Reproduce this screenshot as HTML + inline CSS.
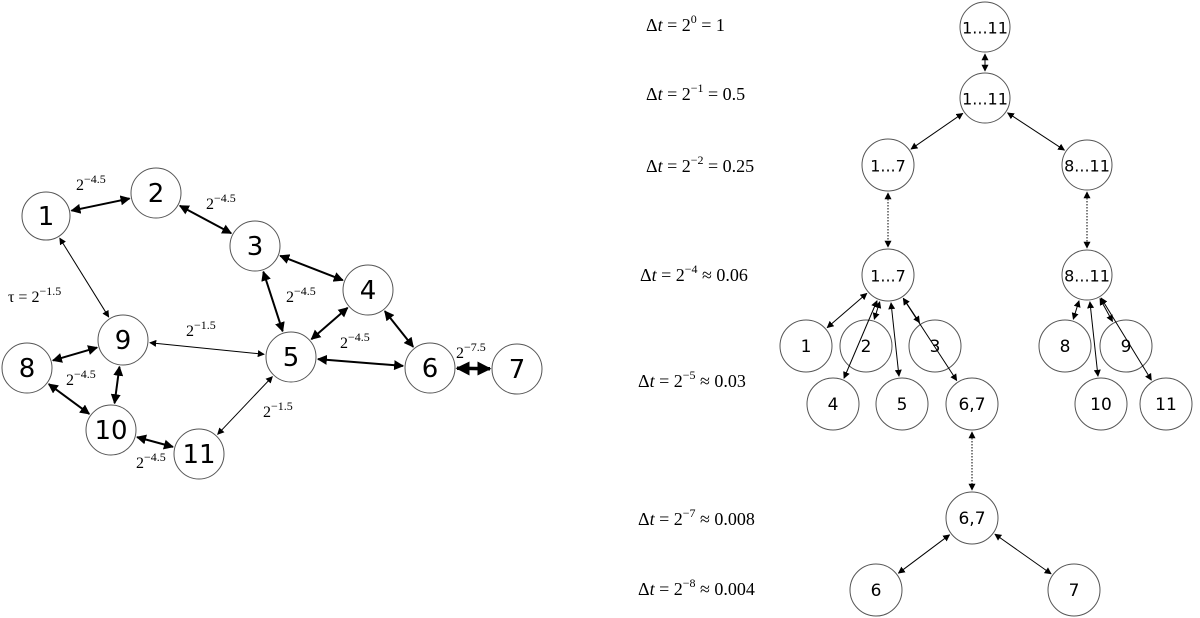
<!DOCTYPE html>
<html><head><meta charset="utf-8">
<style>
html,body{margin:0;padding:0;background:#fff;}
svg{display:block;}
.n{fill:#fff;stroke:#555;stroke-width:1;}
.t{font-family:"DejaVu Sans","Liberation Sans",sans-serif;text-anchor:middle;dominant-baseline:central;fill:#000;}
.m{font-family:"Liberation Serif","DejaVu Serif",serif;fill:#000;}
</style></head>
<body>
<svg id="s" width="1200" height="618" viewBox="0 0 1200 618" xmlns="http://www.w3.org/2000/svg">
<defs>
<marker id="a1" viewBox="0 0 10 10" refX="9" refY="5" markerWidth="7" markerHeight="7" markerUnits="userSpaceOnUse" orient="auto-start-reverse"><path d="M0,0L10,5L0,10z"/></marker>
<marker id="a2" viewBox="0 0 10 10" refX="9" refY="5" markerWidth="10" markerHeight="10" markerUnits="userSpaceOnUse" orient="auto-start-reverse"><path d="M0,0L10,5L0,10z"/></marker>
<marker id="a3" viewBox="0 0 10 10" refX="9" refY="5" markerWidth="14" markerHeight="14" markerUnits="userSpaceOnUse" orient="auto-start-reverse"><path d="M0,0L10,5L0,10z"/></marker>
</defs>
<g id="nodes"></g>
<g id="edges"></g>
<g class="m" font-size="16">
<text x="76" y="190">2<tspan dy="-7" font-size="12">−4.5</tspan></text>
<text x="206" y="209">2<tspan dy="-7" font-size="12">−4.5</tspan></text>
<text x="8" y="302">τ = 2<tspan dy="-7" font-size="12">−1.5</tspan></text>
<text x="286" y="302">2<tspan dy="-7" font-size="12">−4.5</tspan></text>
<text x="186" y="336">2<tspan dy="-7" font-size="12">−1.5</tspan></text>
<text x="340" y="348">2<tspan dy="-7" font-size="12">−4.5</tspan></text>
<text x="456" y="358">2<tspan dy="-7" font-size="12">−7.5</tspan></text>
<text x="66" y="385">2<tspan dy="-7" font-size="12">−4.5</tspan></text>
<text x="263" y="417">2<tspan dy="-7" font-size="12">−1.5</tspan></text>
<text x="136" y="468">2<tspan dy="-7" font-size="12">−4.5</tspan></text>
</g>
<g class="m" font-size="18">
<text x="646" y="31">Δ<tspan font-style="italic">t</tspan> = 2<tspan dy="-8" font-size="12">0</tspan><tspan dy="8"> = 1</tspan></text>
<text x="646" y="100">Δ<tspan font-style="italic">t</tspan> = 2<tspan dy="-8" font-size="12">−1</tspan><tspan dy="8"> = 0.5</tspan></text>
<text x="646" y="172">Δ<tspan font-style="italic">t</tspan> = 2<tspan dy="-8" font-size="12">−2</tspan><tspan dy="8"> = 0.25</tspan></text>
<text x="640" y="281">Δ<tspan font-style="italic">t</tspan> = 2<tspan dy="-8" font-size="12">−4</tspan><tspan dy="8"> ≈ 0.06</tspan></text>
<text x="638" y="387">Δ<tspan font-style="italic">t</tspan> = 2<tspan dy="-8" font-size="12">−5</tspan><tspan dy="8"> ≈ 0.03</tspan></text>
<text x="638" y="525">Δ<tspan font-style="italic">t</tspan> = 2<tspan dy="-8" font-size="12">−7</tspan><tspan dy="8"> ≈ 0.008</tspan></text>
<text x="638" y="595">Δ<tspan font-style="italic">t</tspan> = 2<tspan dy="-8" font-size="12">−8</tspan><tspan dy="8"> ≈ 0.004</tspan></text>
</g>
</svg>
<script>
var N={
L1:[46,216,24,"1",26],L2:[156,193,25,"2",26],L3:[255,246,25,"3",26],L4:[368,290,25,"4",26],
L5:[291,357,25,"5",26],L6:[430,368,25,"6",26],L7:[517,369,25,"7",26],L8:[27,368,25,"8",26],
L9:[123,340,25,"9",26],L10:[111,430,25,"10",26],L11:[199,454,25,"11",26],
T0:[985,27,25,"1...11",16],T1:[985,98,25,"1...11",16],A:[888,165,26,"1...7",16],B:[1087,165,25,"8...11",16],
A2:[888,275,26,"1...7",16],B2:[1087,275,25,"8...11",16],
c1:[806,346,26,"1",17],c2:[866,346,26,"2",17],c3:[935,346,26,"3",17],c8:[1065,346,26,"8",17],c9:[1126,346,26,"9",17],
c4:[833,404,26,"4",17],c5:[902,404,26,"5",17],c67:[972,404,26,"6,7",17],c10:[1101,404,26,"10",17],c11:[1166,404,26,"11",17],
D:[972,518,26,"6,7",17],d6:[876,590,26,"6",17],d7:[1074,590,26,"7",17]};
var E=[["L1","L2",2,"a2"],["L2","L3",2,"a2"],["L3","L4",2,"a2"],["L3","L5",2,"a2"],["L4","L5",2,"a2"],["L4","L6",2,"a2"],
["L5","L6",2,"a2"],["L6","L7",3.5,"a3"],["L1","L9",1,"a1"],["L9","L5",1,"a1"],["L8","L9",2,"a2"],["L9","L10",2,"a2"],
["L8","L10",2,"a2"],["L10","L11",2,"a2"],["L11","L5",1,"a1"],
["T0","T1",1,"a1"],["T1","A",1,"a1"],["T1","B",1,"a1"],["A","A2",1,"a1",1],["B","B2",1,"a1",1],
["A2","c1",1,"a1"],["A2","c2",1,"a1"],["A2","c3",1,"a1"],["A2","c4",1,"a1"],["A2","c5",1,"a1"],["A2","c67",1,"a1"],
["B2","c8",1,"a1"],["B2","c9",1,"a1"],["B2","c10",1,"a1"],["B2","c11",1,"a1"],
["c67","D",1,"a1",1],["D","d6",1,"a1"],["D","d7",1,"a1"]];
var ns="http://www.w3.org/2000/svg",eg=document.getElementById("edges"),ng=document.getElementById("nodes");
E.forEach(function(e){var a=N[e[0]],b=N[e[1]],dx=b[0]-a[0],dy=b[1]-a[1],d=Math.hypot(dx,dy),ux=dx/d,uy=dy/d;
var l=document.createElementNS(ns,"line");
l.setAttribute("x1",a[0]+ux*(a[2]+2));l.setAttribute("y1",a[1]+uy*(a[2]+2));
l.setAttribute("x2",b[0]-ux*(b[2]+2));l.setAttribute("y2",b[1]-uy*(b[2]+2));
l.setAttribute("stroke","#000");l.setAttribute("stroke-width",e[2]);
if(e[4])l.setAttribute("stroke-dasharray","1.5,1.5");
l.setAttribute("marker-start","url(#"+e[3]+")");l.setAttribute("marker-end","url(#"+e[3]+")");eg.appendChild(l);});
for(var k in N){var n=N[k];var c=document.createElementNS(ns,"circle");c.setAttribute("cx",n[0]);c.setAttribute("cy",n[1]);c.setAttribute("r",n[2]);c.setAttribute("class","n");ng.appendChild(c);
var t=document.createElementNS(ns,"text");t.setAttribute("x",n[0]);t.setAttribute("y",n[1]+1);t.setAttribute("class","t");t.setAttribute("font-size",n[4]);t.textContent=n[3];ng.appendChild(t);}
</script>
</body></html>
